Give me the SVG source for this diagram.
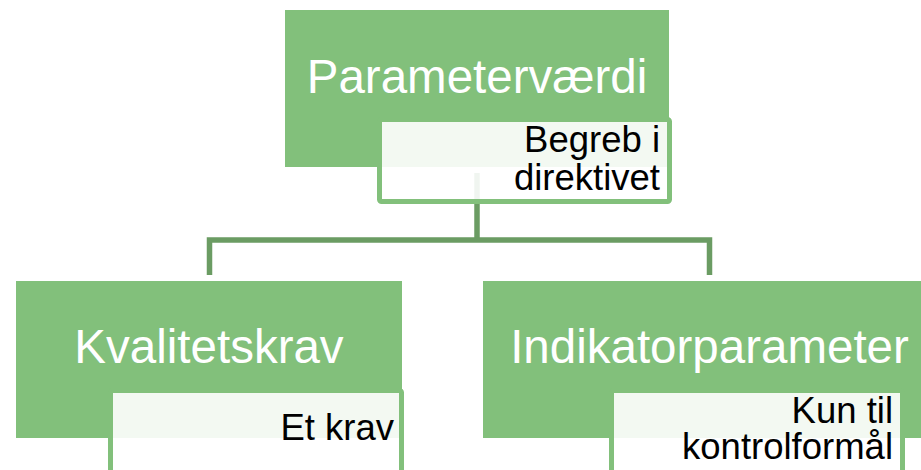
<svg xmlns="http://www.w3.org/2000/svg" width="921" height="470" viewBox="0 0 921 470">
<style>
.box{fill:#82C07B}
.sub{fill:#FFFFFF;fill-opacity:0.9;stroke:#82C07B;stroke-width:5}
.main{font-family:"Liberation Sans",Arial,sans-serif;font-size:47.5px;fill:#FFFFFF;text-anchor:middle}
.lbl{font-family:"Liberation Sans",Arial,sans-serif;font-size:36.5px;fill:#000000;text-anchor:end}
.conn{fill:none;stroke:#6B9C63;stroke-width:5.5}
</style>
<rect width="921" height="470" fill="#FFFFFF"/>
<g id="connectors">
<path class="conn" d="M477,173 V240"/>
<path class="conn" d="M209.5,275 V240 H709.5 V275"/>
</g>
<g id="node-parameterverdi">
<rect class="box" x="285" y="10" width="384" height="157"/>
<text class="main" x="477" y="93">Parameterværdi</text>
<rect class="sub" x="379.5" y="119.5" width="290" height="82" rx="2"/>
<text class="lbl" x="660" y="152">Begreb i</text>
<text class="lbl" x="660" y="190">direktivet</text>
</g>
<g id="node-kvalitetskrav">
<rect class="box" x="16" y="281" width="386" height="157"/>
<text class="main" x="209" y="363">Kvalitetskrav</text>
<rect class="sub" x="110.5" y="390.5" width="291" height="100" rx="2"/>
<text class="lbl" x="394" y="440">Et krav</text>
</g>
<g id="node-indikatorparameter">
<rect class="box" x="483" y="281" width="453" height="157"/>
<text class="main" x="709.5" y="363">Indikatorparameter</text>
<rect class="sub" x="611.5" y="390.5" width="291" height="100" rx="2"/>
<text class="lbl" x="893" y="423">Kun til</text>
<text class="lbl" x="893" y="459">kontrolformål</text>
</g>
</svg>
